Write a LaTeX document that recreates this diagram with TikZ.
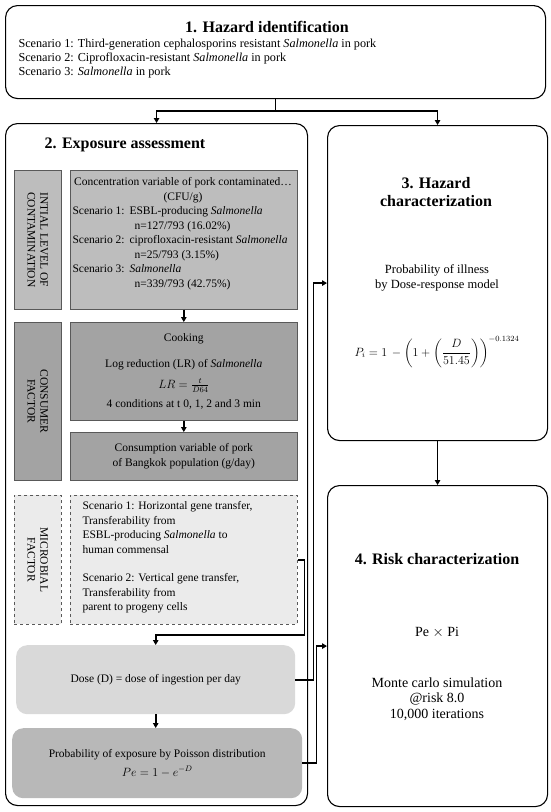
\documentclass[tikz,border=0pt]{standalone}
\usepackage{amsmath}
\usepackage{fontspec}
\setmainfont{Liberation Serif}
\usepackage{tikz}
\usepackage{xcolor}
\usetikzlibrary{positioning, arrows.meta}

\definecolor{initfill}{gray}{0.74}
\definecolor{consfill}{gray}{0.64}
\definecolor{microfill}{gray}{0.92}
\definecolor{dosefill}{gray}{0.85}
\definecolor{pefill}{gray}{0.72}

\begin{document}
\begin{tikzpicture}[
            x=1pt, y=-1pt,
            font=\fontsize{11.5}{14.6}\selectfont,
            stage/.style={draw, line width=1.1pt, rounded corners=12pt, anchor=north west, inner sep=0pt},
            panel/.style={draw=black!65, line width=0.6pt, anchor=north west, inner sep=0pt},
            softbox/.style={rounded corners=11pt, anchor=north west, inner sep=0pt},
            sidetag/.style={rotate=-90, align=center, font=\fontsize{11.5}{12.8}\selectfont},
            heading/.style={font=\bfseries\fontsize{16}{18}\selectfont, align=center},
            flow/.style={line width=1.6pt, -{Triangle[length=5pt, width=5.5pt]}},
        ]
            \useasboundingbox (0,0) rectangle (550,812);

            % main stages
            \node[stage, minimum width=540pt, minimum height=93pt] (hazid) at (5,5) {};
            \node[stage, minimum width=302pt, minimum height=682pt] (expo) at (5,123) {};
            \node[stage, minimum width=220pt, minimum height=315pt] (hazchar) at (327,125) {};
            \node[stage, minimum width=220pt, minimum height=321pt] (riskchar) at (327,485) {};

            % 1. hazard identification
            \node[heading] (hazidtitle) at (267,27) {1. Hazard identification};
            \node[anchor=north west, align=left, font=\fontsize{12.2}{14}\selectfont] (hazidtext) at (15,35) {%
                Scenario 1: Third-generation cephalosporins resistant \textit{Salmonella} in pork\\
                Scenario 2: Ciprofloxacin-resistant \textit{Salmonella} in pork\\
                Scenario 3: \textit{Salmonella} in pork};

            % 2. exposure assessment
            \node[heading] (expotitle) at (125,145) {2. Exposure assessment};

            \node[panel, fill=initfill, minimum width=47pt, minimum height=139pt] (initlab) at (14,170) {};
            \node[sidetag] (initlabtext) at (initlab.center) {INTIAL LEVEL OF\\CONTAMINATION};
            \node[panel, fill=initfill, minimum width=227pt, minimum height=139pt] (conc) at (70,170) {};
            \node[align=center, anchor=north] (conctitle) at (183,174) {Concentration variable of pork contaminated\ldots\\(CFU/g)};
            \node[align=left, anchor=north west] (concscen) at (69,203) {%
                \makebox[57pt][l]{Scenario 1:}ESBL-producing \textit{Salmonella}\\
                \hspace*{62pt}n=127/793 (16.02\%)\\
                \makebox[57pt][l]{Scenario 2:}ciprofloxacin-resistant \textit{Salmonella}\\
                \hspace*{62pt}n=25/793 (3.15\%)\\
                \makebox[57pt][l]{Scenario 3:}\textit{Salmonella}\\
                \hspace*{62pt}n=339/793 (42.75\%)};

            \node[panel, fill=consfill, minimum width=47pt, minimum height=158pt] (conslab) at (14,322) {};
            \node[sidetag] (conslabtext) at (conslab.center) {CONSUMER\\FACTOR};
            \node[panel, fill=consfill, minimum width=227pt, minimum height=98pt, align=center] (cook) at (70,322) {%
                Cooking\\[12pt]
                Log reduction (LR) of \textit{Salmonella}\\[6pt]
                $LR=\tfrac{t}{D64}$\\[5pt]
                4 conditions at t 0, 1, 2 and 3 min};
            \node[panel, fill=consfill, minimum width=227pt, minimum height=48pt, align=center] (consum) at (70,432) {%
                Consumption variable of pork\\of Bangkok population (g/day)};

            \node[panel, dashed, fill=microfill, minimum width=47pt, minimum height=129pt] (microlab) at (14,495) {};
            \node[sidetag] (microlabtext) at (microlab.center) {MICROBIAL\\FACTOR};
            \node[panel, dashed, fill=microfill, minimum width=227pt, minimum height=129pt] (micro) at (70,495) {};
            \node[align=left, anchor=north west] (microtext) at (79,498) {%
                Scenario 1: Horizontal gene transfer,\\
                Transferability from\\
                ESBL-producing \textit{Salmonella} to\\
                human commensal\\[13.6pt]
                Scenario 2: Vertical gene transfer,\\
                Transferability from\\
                parent to progeny cells};

            \node[softbox, fill=dosefill, minimum width=279pt, minimum height=69pt] (dose) at (16,645) {Dose (D) = dose of ingestion per day};
            \node[softbox, fill=pefill, minimum width=290pt, minimum height=70pt, align=center] (pe) at (12,728) {%
                Probability of exposure by Poisson distribution\\[4pt]
                $Pe = 1 - e^{-D}$};

            % 3. hazard characterization
            \node[heading] (hazchartitle) at (436,192) {3. Hazard\\characterization};
            \node[align=center, font=\fontsize{12.5}{15}\selectfont] (hazchartext) at (437,278) {Probability of illness\\by Dose-response model};
            \node[font=\fontsize{12}{14}\selectfont] (hazcharform) at (437,352) {$\displaystyle P_i = 1\,-\left(1+\left(\frac{D}{51.45}\right)\right)^{-0.1324}$};

            % 4. risk characterization
            \node[heading] (riskchartitle) at (437,559) {4. Risk characterization};
            \node[font=\fontsize{14}{15.5}\selectfont] (riskcharprod) at (437,632) {Pe $\times$ Pi};
            \node[align=center, font=\fontsize{14}{15.5}\selectfont] (riskchartext) at (437,699) {Monte carlo simulation\\@risk 8.0\\10,000 iterations};

            % connectors
            \draw[line width=1.6pt] (hazid.south) -- ++(0,12) coordinate (fork);
            \draw[flow] (fork) -| (expo.north);
            \draw[flow] (fork) -| (hazchar.north);
            \draw[flow] (conc.south) -- (cook.north);
            \draw[flow] (cook.south) -- (consum.north);
            \draw[flow] (micro.east) -- ++(7,0) |- ([yshift=10pt]dose.north) -- (dose.north);
            \draw[flow] (dose.south) -- (dose.south |- pe.north);
            \draw[flow] (dose.east) -- ++(18,0) |- (hazchar.west);
            \draw[flow] (pe.east) -- ++(14,0) |- (riskchar.west);
            \draw[flow] (hazchar.south) -- (riskchar.north);
        \end{tikzpicture}
\end{document}
